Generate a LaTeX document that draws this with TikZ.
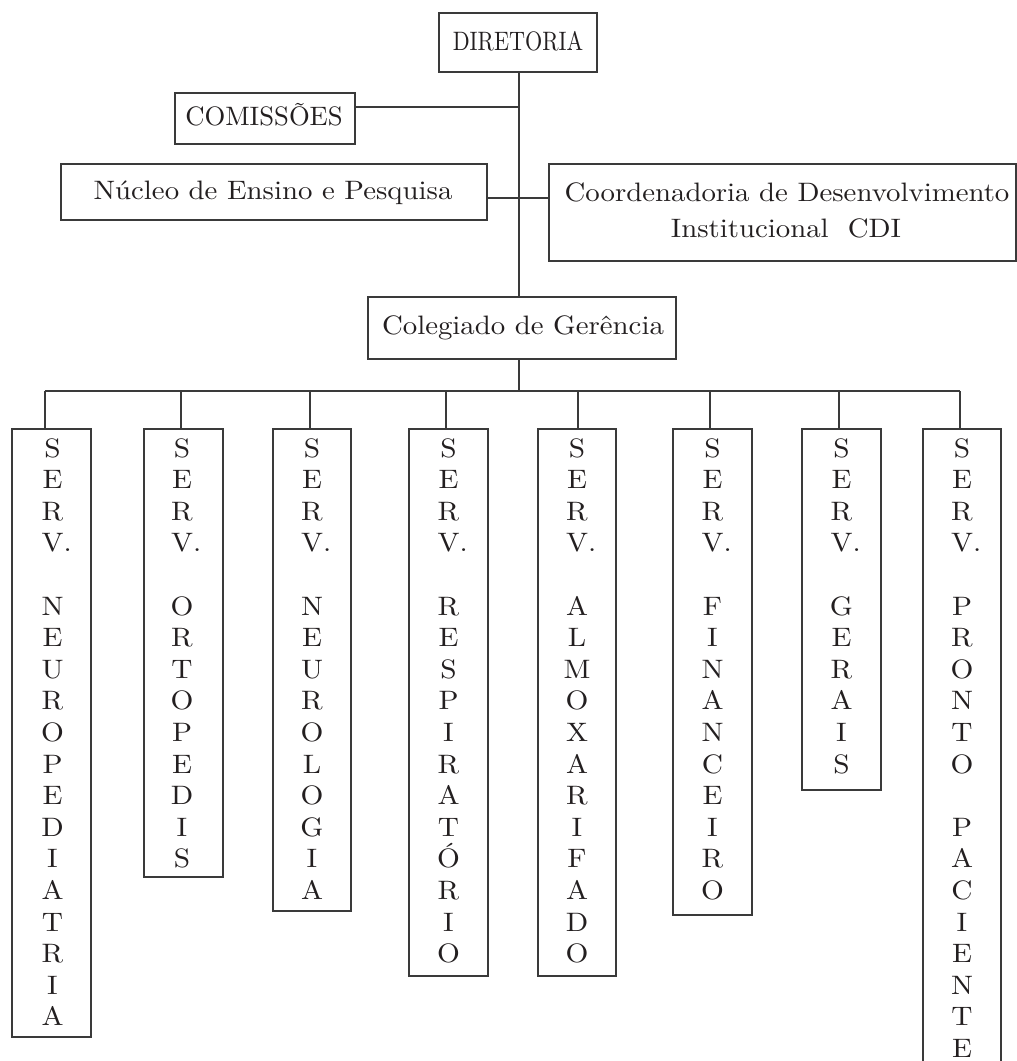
\documentclass[tikz,border=0pt]{standalone}
\usepackage{fontspec}
\newfontfamily\widefont{lmroman10-regular.otf}[FakeStretch=1.08]
\newfontfamily\normfont{lmroman10-regular.otf}
\newfontfamily\narrowfont{lmroman10-regular.otf}[FakeStretch=0.83]
\newfontfamily\letterfont{lmroman10-regular.otf}[FakeStretch=1.1]
\usetikzlibrary{fit}
\definecolor{ink}{HTML}{231F20}
\definecolor{rulec}{HTML}{3A3A3A}
\newcommand\vword[4]{%
  \foreach \ch [count=\k from #3] in {#4} {%
    \node[letter] (#1-\k) at (#2, {457+\k*31.6}) {\ch};}}
\begin{document}
\begin{tikzpicture}[x=0.75pt,y=-0.75pt,
  box/.style={draw=rulec, line width=0.9pt, inner sep=0pt},
  label text/.style={anchor=base, inner sep=0pt, text=ink},
  widetext/.style={label text, font={\widefont\fontsize{20}{24}\selectfont}},
  normtext/.style={label text, font={\normfont\fontsize{20}{24}\selectfont}},
  narrowtext/.style={label text, font={\narrowfont\fontsize{20}{24}\selectfont}},
  letter/.style={label text, font={\letterfont\fontsize{20}{24}\selectfont}},
  conn/.style={draw=rulec, line width=0.9pt}]
\fill[white] (0,0) rectangle (1017,1061);
\useasboundingbox (0,0) rectangle (1017,1061);

% upper boxes
\node[box, fit={(439,13) (597,72)}] (dir) {};
\node[narrowtext] (dirt) at (518,50) {DIRETORIA};
\node[box, fit={(175,93) (355,144)}] (com) {};
\node[normtext] (comt) at (264,125) {COMISSÕES};
\node[box, fit={(61,164) (487,220)}] (nuc) {};
\node[widetext] (nuct) at (273,199) {Núcleo de Ensino e Pesquisa};
\node[box, fit={(549,164) (1016,261)}] (coo) {};
\node[widetext] (coot1) at (787,201) {Coordenadoria de Desenvolvimento};
\node[widetext] (coot2) at (786,237) {Institucional~~CDI};
\node[box, fit={(368,297) (676,359)}] (col) {};
\node[widetext] (colt) at (523,334) {Colegiado de Gerência};

% service boxes
\node[box, fit={(12,429) (91,1037)}] (b1) {};
\node[box, fit={(144,429) (223,877)}] (b2) {};
\node[box, fit={(273,429) (351,911)}] (b3) {};
\node[box, fit={(409,429) (488,976)}] (b4) {};
\node[box, fit={(538,429) (616,976)}] (b5) {};
\node[box, fit={(673,429) (752,915)}] (b6) {};
\node[box, fit={(802,429) (881,790)}] (b7) {};
\node[box, fit={(923,429) (1001,1067)}] (b8) {};

\vword{b1s}{52.5}{0}{S,E,R,V\rlap{.}}
\vword{b1w}{52.5}{5}{N,E,U,R,O,P,E,D,I,A,T,R,I,A}
\vword{b2s}{182}{0}{S,E,R,V\rlap{.}}
\vword{b2w}{182}{5}{O,R,T,O,P,E,D,I,S}
\vword{b3s}{312}{0}{S,E,R,V\rlap{.}}
\vword{b3w}{312}{5}{N,E,U,R,O,L,O,G,I,A}
\vword{b4s}{448.5}{0}{S,E,R,V\rlap{.}}
\vword{b4w}{448.5}{5}{R,E,S,P,I,R,A,T,Ó,R,I,O}
\vword{b5s}{577}{0}{S,E,R,V\rlap{.}}
\vword{b5w}{577}{5}{A,L,M,O,X,A,R,I,F,A,D,O}
\vword{b6s}{712.5}{0}{S,E,R,V\rlap{.}}
\vword{b6w}{712.5}{5}{F,I,N,A,N,C,E,I,R,O}
\vword{b7s}{841.5}{0}{S,E,R,V\rlap{.}}
\vword{b7w}{841.5}{5}{G,E,R,A,I,S}
\vword{b8s}{962}{0}{S,E,R,V\rlap{.}}
\vword{b8w}{962}{5}{P,R,O,N,T,O}
\vword{b8x}{962}{12}{P,A,C,I,E,N,T,E}

% junction coordinates
\coordinate (tr) at (519,0);
\coordinate (jc) at (519,107);
\coordinate (jn) at (519,198);
\coordinate (s1) at (45,391);
\coordinate (s2) at (181,391);
\coordinate (s3) at (310,391);
\coordinate (s4) at (446,391);
\coordinate (s5) at (578,391);
\coordinate (s6) at (710,391);
\coordinate (s7) at (839,391);
\coordinate (s8) at (960,391);

% connectors
\draw[conn] (dir.south -| tr) -- (col.north -| tr);
\draw[conn] (com.east |- jc) -- (jc);
\draw[conn] (nuc.east |- jn) -- (coo.west |- jn);
\draw[conn] (col.south -| tr) -- (tr |- s1);
\draw[conn] (s1) -- (s8);
\foreach \i in {1,...,8}{
  \draw[conn] (s\i) -- (b\i.north -| s\i);
}
\end{tikzpicture}
\end{document}
